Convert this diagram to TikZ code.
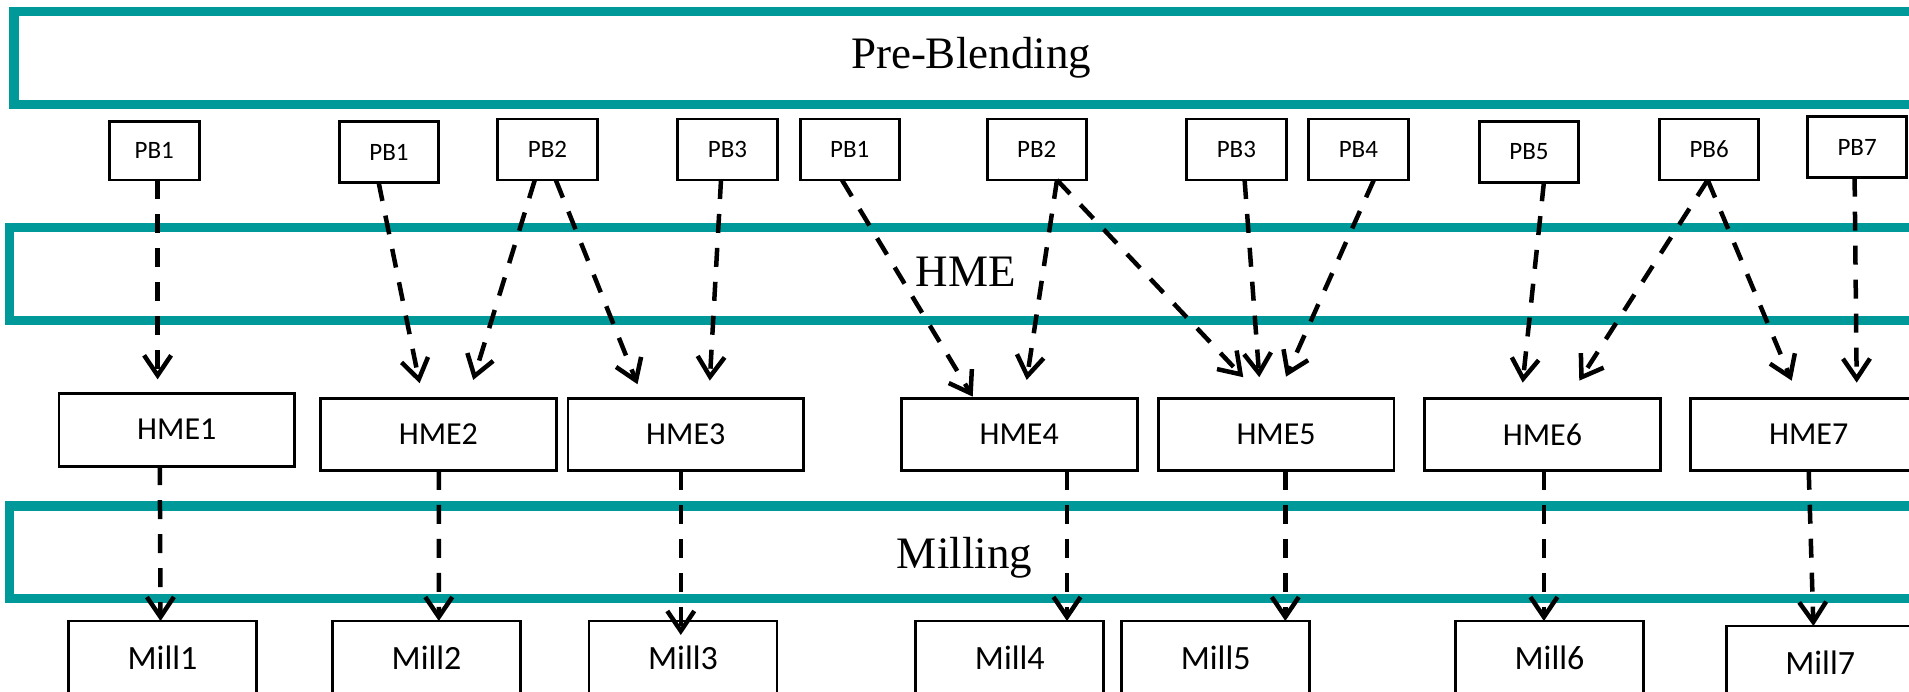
\documentclass[tikz,border=0pt]{standalone}
\usepackage{fontspec}
\newfontfamily\boxfont{Carlito}
\newfontfamily\stagefont{Liberation Serif}
\usetikzlibrary{arrows.meta}
\definecolor{bandteal}{RGB}{0,153,153}

\begin{document}
\begin{tikzpicture}[x=1pt,y=-1pt,
  band/.style={draw=bandteal, line width=9.5pt, rectangle, inner sep=0pt, outer sep=0pt},
  bandlabel/.style={font=\stagefont\fontsize{45}{50}\selectfont, inner sep=0pt, anchor=base},
  box/.style={draw=black, line width=2.9pt, rectangle, inner sep=0pt, outer sep=0pt},
  pbbox/.style={box, minimum width=99.5pt, minimum height=61pt, font=\boxfont\fontsize{25}{30}\selectfont},
  hmebox/.style={box, minimum width=235.7pt, minimum height=72.5pt, font=\boxfont\fontsize{32}{38}\selectfont},
  millbox/.style={box, minimum width=188pt, minimum height=73pt, font=\boxfont\fontsize{34}{40}\selectfont},
  flow/.style={line width=4.5pt, dash pattern=on 19pt off 15pt,
    -{Straight Barb[length=20pt,width=27pt]}}
]
\useasboundingbox (0,0) rectangle (1909,692);
\clip (0,0) rectangle (1909,692);

% stage bands
\node[band, minimum width=1914pt, minimum height=93.4pt] (preband) at (971,58) {};
\node[band, minimum width=1913.2pt, minimum height=93pt] (hmeband) at (966,274) {};
\node[band, minimum width=1910.2pt, minimum height=92.7pt] (millband) at (964.5,552.35) {};
\node[bandlabel] (prelabel) at (971,68.3) {Pre-Blending};
\node[bandlabel] (hmelabel) at (965.6,286.7) {HME};
\node[bandlabel] (milllabel) at (964.5,568.3) {Milling};

% pre-blend sources
\node[pbbox, minimum width=89.7pt, minimum height=58.3pt] (pb1a) at (154.3,150.9) {PB1};
\node[pbbox, minimum height=60.6pt] (pb1b) at (389,152) {PB1};
\node[pbbox] (pb2a) at (547.5,149.5) {PB2};
\node[pbbox] (pb3a) at (727.5,149.5) {PB3};
\node[pbbox] (pb1c) at (849.8,149.5) {PB1};
\node[pbbox] (pb2b) at (1036.8,149.5) {PB2};
\node[pbbox] (pb3b) at (1236.4,149.5) {PB3};
\node[pbbox] (pb4) at (1358.4,149.5) {PB4};
\node[pbbox, minimum height=60.6pt] (pb5) at (1528.9,152) {PB5};
\node[pbbox] (pb6) at (1709.1,149.5) {PB6};
\node[pbbox] (pb7) at (1857.1,147.2) {PB7};

% extruders
\node[hmebox, minimum height=72.7pt] (hme1) at (176.8,429.7) {HME1};
\node[hmebox] (hme2) at (438.4,434.5) {HME2};
\node[hmebox] (hme3) at (685.8,434.5) {HME3};
\node[hmebox] (hme4) at (1019.2,434.5) {HME4};
\node[hmebox] (hme5) at (1276.1,434.5) {HME5};
\node[hmebox] (hme6) at (1542.4,434.5) {HME6};
\node[hmebox] (hme7) at (1808.7,434.5) {HME7};

% mills
\node[millbox] (mill1) at (162.5,657.5) {Mill1};
\node[millbox] (mill2) at (426.6,657.5) {Mill2};
\node[millbox] (mill3) at (683,657.5) {Mill3};
\node[millbox] (mill4) at (1009.8,657.5) {Mill4};
\node[millbox] (mill5) at (1215.7,657.5) {Mill5};
\node[millbox] (mill6) at (1549.5,657.5) {Mill6};
\node[millbox] (mill7) at (1820.2,662.5) {Mill7};

% pre-blend to extruder flows
\draw[flow] ([xshift=3.3pt]pb1a.south) -- ([xshift=-19.2pt,yshift=14pt]hme1.north);
\draw[flow] ([xshift=-10.4pt]pb1b.south) -- ([xshift=-18.8pt,yshift=15pt]hme2.north);
\draw[flow] ([xshift=-12.7pt]pb2a.south) -- ([xshift=34.8pt,yshift=18.3pt]hme2.north);
\draw[flow] ([xshift=8.3pt]pb2a.south) -- ([xshift=-48.3pt,yshift=14pt]hme3.north);
\draw[flow] ([xshift=-6.5pt]pb3a.south) -- ([xshift=24pt,yshift=17.6pt]hme3.north);
\draw[flow] ([xshift=-7.8pt]pb1c.south) -- ([xshift=-46.5pt,yshift=1.6pt]hme4.north);
\draw[flow] ([xshift=20.2pt]pb2b.south) -- ([xshift=7.5pt,yshift=18.3pt]hme4.north);
\draw[flow] ([xshift=20.2pt]pb2b.south) -- ([xshift=-32.8pt,yshift=21pt]hme5.north);
\draw[flow] ([xshift=8.2pt]pb3b.south) -- ([xshift=-16.8pt,yshift=21pt]hme5.north);
\draw[flow] ([xshift=15.4pt]pb4.south) -- ([xshift=9.9pt,yshift=21.6pt]hme5.north);
\draw[flow] ([xshift=15pt]pb5.south) -- ([xshift=-19.7pt,yshift=15.6pt]hme6.north);
\draw[flow] ([xshift=-1.4pt]pb6.south) -- ([xshift=36.9pt,yshift=17.6pt]hme6.north);
\draw[flow] ([xshift=-1.4pt]pb6.south) -- ([xshift=-17pt,yshift=17.6pt]hme7.north);
\draw[flow] ([xshift=-2.5pt]pb7.south) -- ([xshift=48pt,yshift=15.6pt]hme7.north);

% extruder to mill flows
\draw[flow] ([xshift=-17pt]hme1.south) -- ([xshift=-2pt]mill1.north);
\draw[flow] ([xshift=0.4pt]hme2.south) -- ([xshift=12.2pt]mill2.north);
\draw[flow] ([xshift=-5pt]hme3.south) -- ([xshift=-2.2pt,yshift=-14pt]mill3.north);
\draw[flow] ([xshift=47.8pt]hme4.south) -- ([xshift=57.2pt]mill4.north);
\draw[flow] ([xshift=9.2pt]hme5.south) -- ([xshift=69.6pt]mill5.north);
\draw[flow] ([xshift=1.5pt]hme6.south) -- ([xshift=-5.6pt]mill6.north);
\draw[flow] ([xshift=0pt]hme7.south) -- ([xshift=-6.8pt]mill7.north);
\end{tikzpicture}
\end{document}
